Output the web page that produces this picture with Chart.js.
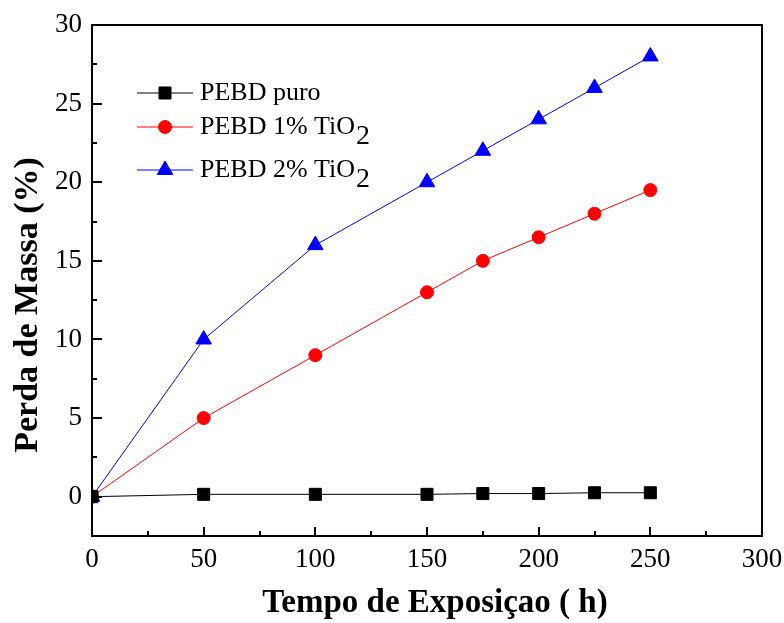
<!DOCTYPE html>
<html>
<head>
<meta charset="utf-8">
<script src="https://cdn.jsdelivr.net/npm/chart.js@4.4.0/dist/chart.umd.min.js"></script>
<style>
  html, body { margin: 0; padding: 0; background: #fff; }
  #wrap { width: 784px; height: 623px; }
</style>
</head>
<body>
<div id="wrap"><canvas id="myChart" width="784" height="623"></canvas></div>
<script>
// dados
const horas = [0, 50, 100, 150, 175, 200, 225, 250];
const pebdPuro = [0, 0.15, 0.15, 0.15, 0.2, 0.2, 0.25, 0.25];
const pebd1 = [0, 5, 9, 13, 15, 16.5, 18, 19.5];
const pebd2 = [0, 10, 16, 20, 22, 24, 26, 28];
const xTicks = [0, 50, 100, 150, 200, 250, 300];
const yTicks = [0, 5, 10, 15, 20, 25, 30];
const tituloX = "Tempo de Exposiçao ( h)";
const tituloY = "Perda de Massa (%)";

const serif = "'Liberation Serif', 'Times New Roman', serif";

function pts(ys) {
    return horas.map((h, i) => ({ x: h, y: ys[i] }));
}

const series = [
    { label: "PEBD puro", sub: "", data: pebdPuro, color: "#000000", style: "rect", r: 8.5 },
    { label: "PEBD 1% TiO", sub: "2", data: pebd1, color: "#ff0000", style: "circle", r: 6.5 },
    { label: "PEBD 2% TiO", sub: "2", data: pebd2, color: "#0000ff", style: "triangle", r: 9 }
];

// ticks para dentro + moldura + títulos + legenda
const framePlugin = {
    id: 'frame',
    afterDraw(chart) {
        const c = chart.ctx;
        const a = chart.chartArea;
        const xs = chart.scales.x, ys = chart.scales.y;
        c.save();
        c.strokeStyle = "#000";
        c.lineWidth = 2;
        c.strokeRect(a.left, a.top, a.right - a.left, a.bottom - a.top);
        c.beginPath();
        for (let v = 25; v < 300; v += 25) {
            const px = Math.round(xs.getPixelForValue(v));
            const len = (v % 50 === 0) ? 9 : 5;
            c.moveTo(px, a.bottom);
            c.lineTo(px, a.bottom - len);
        }
        for (let v = 0; v < 30; v += 2.5) {
            const py = Math.round(ys.getPixelForValue(v));
            const len = (v % 5 === 0) ? 10 : 5;
            c.moveTo(a.left, py);
            c.lineTo(a.left + len, py);
        }
        c.stroke();

        // títulos dos eixos
        c.fillStyle = "#000";
        c.textAlign = "center";
        c.textBaseline = "middle";
        c.font = "bold 33px " + serif;
        c.fillText(tituloX, 435, 603);
        c.save();
        c.translate(28, 305);
        c.rotate(-Math.PI / 2);
        c.font = "bold 34px " + serif;
        c.fillText(tituloY, 0, 0);
        c.restore();

        // legenda
        const rowsY = [93, 127, 170];
        series.forEach((s, i) => {
            const y = rowsY[i];
            c.strokeStyle = s.color;
            c.fillStyle = s.color;
            c.lineWidth = 1;
            c.beginPath();
            c.moveTo(137, y);
            c.lineTo(193, y);
            c.stroke();
            Chart.helpers.drawPoint(c, { pointStyle: s.style, radius: s.r, borderWidth: 1 }, 165, y);
            c.fillStyle = "#000";
            c.font = "26px " + serif;
            c.textBaseline = "middle";
            c.textAlign = "left";
            c.fillText(s.label, 200, y);
            if (s.sub) {
                const w = c.measureText(s.label).width;
                c.font = "28px " + serif;
                c.fillText(s.sub, 200 + w + 1, y + 10);
            }
        });
        c.restore();
    }
};

const ctx = document.getElementById('myChart').getContext("2d");

const config = {
    type: 'scatter',
    data: {
        datasets: series.map(s => ({
            label: s.label,
            data: pts(s.data),
            showLine: true,
            borderColor: s.color,
            backgroundColor: s.color,
            borderWidth: 1,
            pointStyle: s.style,
            pointRadius: s.r,
            pointBorderWidth: 1,
            pointBackgroundColor: s.color,
            pointBorderColor: s.color
        }))
    },
    options: {
        responsive: false,
        animation: false,
        layout: { padding: { top: 25, right: 22, left: 0, bottom: 0 } },
        plugins: {
            legend: { display: false },
            tooltip: { enabled: false }
        },
        scales: {
            x: {
                type: 'linear',
                min: 0,
                max: 300,
                afterBuildTicks(scale) { scale.ticks = xTicks.map(v => ({ value: v })); },
                afterFit(scale) {
                    scale.height = 87;
                    scale.paddingLeft = 0;
                    scale.paddingRight = 0;
                },
                grid: { display: false, drawTicks: false },
                border: { display: false },
                ticks: {
                    padding: 8,
                    maxRotation: 0,
                    color: "#000",
                    font: { family: serif, size: 27 }
                }
            },
            y: {
                min: -2.5,
                max: 30,
                afterBuildTicks(scale) { scale.ticks = yTicks.map(v => ({ value: v })); },
                afterFit(scale) {
                    scale.width = 92;
                    scale.paddingTop = 0;
                    scale.paddingBottom = 0;
                },
                grid: { display: false, drawTicks: false },
                border: { display: false },
                ticks: {
                    padding: 10,
                    color: "#000",
                    font: { family: serif, size: 27 }
                }
            }
        }
    },
    plugins: [framePlugin]
};

const myChart = new Chart(ctx, config);
</script>
</body>
</html>
